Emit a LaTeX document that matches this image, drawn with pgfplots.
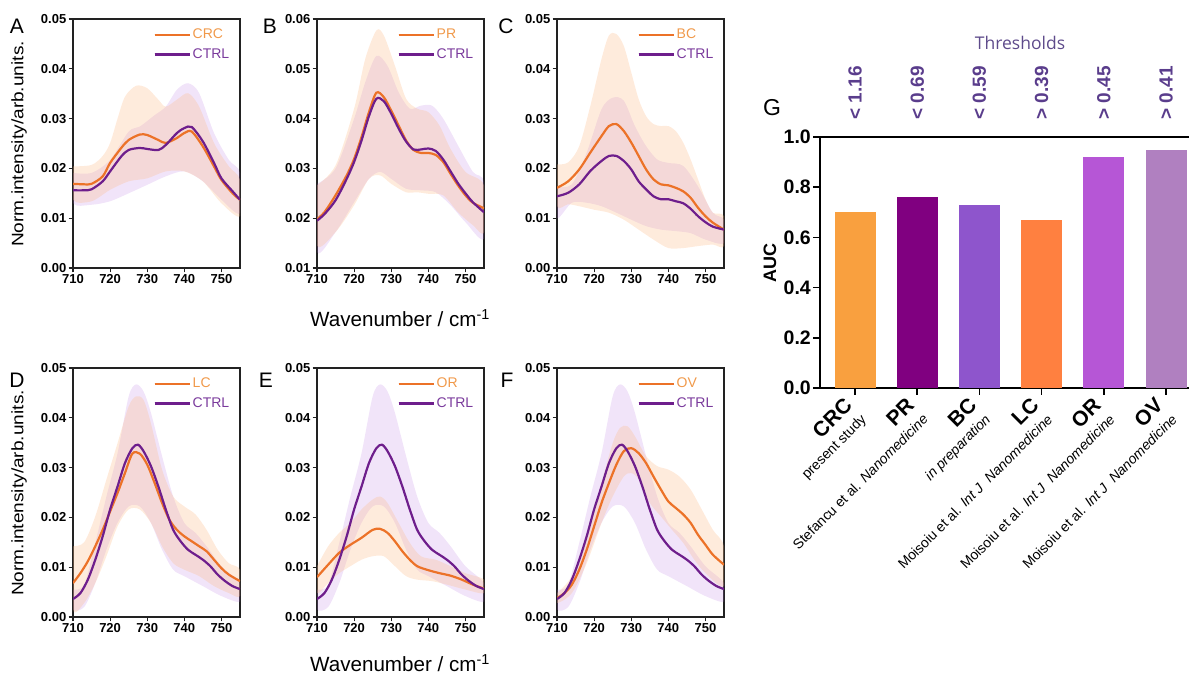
\documentclass[border=0pt]{standalone}
\usepackage{pgfplots}
\pgfplotsset{compat=1.18}
\usepackage{pgfplotstable}
\usepackage{fontspec}
\setmainfont{Liberation Sans}
\newfontfamily\opensans{Open Sans}
\definecolor{axc}{HTML}{222222}
\definecolor{lineO}{HTML}{EC7228}
\definecolor{lineP}{HTML}{6E1E8C}
\definecolor{bandO}{RGB}{253,190,140}
\definecolor{bandP}{HTML}{B978E1}
\definecolor{legO}{HTML}{F0994A}
\definecolor{legP}{HTML}{7A3A9C}
\definecolor{thr}{HTML}{5A3D8C}
\definecolor{thrT}{HTML}{5E4B8B}
\definecolor{cCRC}{HTML}{F9A03F}
\definecolor{cPR}{HTML}{800080}
\definecolor{cBC}{HTML}{8E55CC}
\definecolor{cLC}{HTML}{FF8040}
\definecolor{cOR}{HTML}{B656D6}
\definecolor{cOV}{HTML}{B080C0}
\newcommand{\vs}[1]{\scalebox{1.15}[1]{#1}}

% ---------------- data ----------------
\pgfplotstableread{
x y
710 0.0169
713 0.0168
715 0.0169
718 0.0184
720 0.0211
723 0.0241
725 0.0257
728 0.0268
730 0.0267
733 0.0257
735 0.0251
738 0.0261
740 0.0271
742 0.0274
745 0.0244
748 0.0204
750 0.0177
753 0.0150
755 0.0137
}\Acrc
\pgfplotstableread{
x y
710 0.0156
713 0.0156
715 0.0158
718 0.0174
720 0.0194
723 0.0224
725 0.0237
728 0.0241
730 0.0239
733 0.0237
735 0.0247
738 0.0271
740 0.0281
742 0.0283
745 0.0254
748 0.0211
750 0.0180
753 0.0154
755 0.0137
}\Actrl
\pgfplotstableread{
x y
710 0.0204
715 0.0207
718 0.0225
720 0.0251
722 0.0300
724 0.0344
727 0.0366
730 0.0361
733 0.0338
735 0.0324
738 0.0338
741 0.0351
744 0.0324
748 0.0251
752 0.0204
755 0.0177
755 0.0104
750 0.0130
745 0.0174
740 0.0194
735 0.0194
730 0.0180
725 0.0174
720 0.0157
715 0.0134
710 0.0137
710 0.0204
}\AcrcB
\pgfplotstableread{
x y
710 0.0191
715 0.0191
720 0.0217
725 0.0274
728 0.0284
732 0.0307
735 0.0324
738 0.0358
741 0.0371
744 0.0351
748 0.0271
752 0.0217
755 0.0191
755 0.0110
750 0.0137
745 0.0174
740 0.0194
735 0.0184
730 0.0167
725 0.0150
720 0.0134
715 0.0127
710 0.0130
710 0.0191
}\ActrlB
% B
\pgfplotstableread{
x y
710 0.0198
712 0.0212
715 0.0246
718 0.0286
720 0.0319
722 0.0363
724 0.0413
726 0.0452
728 0.0443
730 0.0416
732 0.0386
734 0.0356
736 0.0337
738 0.0331
740 0.0331
742 0.0327
744 0.0313
746 0.0289
748 0.0266
750 0.0246
752 0.0231
755 0.0220
}\Bpr
\pgfplotstableread{
x y
710 0.0195
712 0.0208
715 0.0236
718 0.0279
720 0.0313
722 0.0356
724 0.0405
726 0.0440
728 0.0435
730 0.0410
732 0.0380
734 0.0354
736 0.0338
738 0.0338
740 0.0340
742 0.0335
744 0.0318
746 0.0294
748 0.0270
750 0.0250
752 0.0232
755 0.0212
}\Bctrl
\pgfplotstableread{
x y
710 0.0266
715 0.0306
720 0.0420
723 0.0520
726 0.0577
728 0.0567
731 0.0506
734 0.0440
737 0.0420
740 0.0413
743 0.0386
746 0.0339
750 0.0293
755 0.0266
755 0.0172
752 0.0186
748 0.0212
744 0.0246
740 0.0249
737 0.0252
734 0.0252
730 0.0269
727 0.0286
724 0.0279
720 0.0226
715 0.0172
710 0.0145
710 0.0266
}\BprB
\pgfplotstableread{
x y
710 0.0269
715 0.0300
720 0.0400
723 0.0473
726 0.0526
729 0.0506
732 0.0453
735 0.0420
738 0.0426
741 0.0426
744 0.0400
748 0.0346
752 0.0293
755 0.0272
755 0.0159
750 0.0192
746 0.0226
742 0.0252
738 0.0256
734 0.0259
730 0.0279
727 0.0293
724 0.0279
720 0.0232
715 0.0172
710 0.0132
710 0.0269
}\BctrlB
% C
\pgfplotstableread{
x y
710 0.0161
713 0.0174
716 0.0198
719 0.0232
722 0.0265
724 0.0285
726 0.0289
728 0.0275
730 0.0252
732 0.0225
734 0.0198
736 0.0178
738 0.0168
740 0.0166
742 0.0161
744 0.0154
746 0.0141
748 0.0121
750 0.0104
752 0.0091
755 0.0077
}\Cbc
\pgfplotstableread{
x y
710 0.0144
713 0.0151
716 0.0168
719 0.0195
722 0.0215
724 0.0225
726 0.0225
728 0.0215
730 0.0198
732 0.0174
734 0.0158
736 0.0144
738 0.0138
740 0.0138
742 0.0134
744 0.0130
746 0.0119
748 0.0104
750 0.0092
752 0.0083
755 0.0077
}\Cctrl
\pgfplotstableread{
x y
710 0.0208
713 0.0212
716 0.0245
719 0.0326
722 0.0420
724 0.0467
726 0.0470
728 0.0446
730 0.0393
732 0.0339
734 0.0305
736 0.0289
738 0.0285
740 0.0285
742 0.0275
744 0.0252
746 0.0218
748 0.0178
750 0.0138
752 0.0111
755 0.0104
755 0.0044
752 0.0047
748 0.0044
744 0.0040
740 0.0040
736 0.0057
732 0.0077
728 0.0097
724 0.0111
720 0.0117
716 0.0124
713 0.0128
710 0.0124
710 0.0208
}\CbcB
\pgfplotstableread{
x y
710 0.0164
714 0.0168
718 0.0232
722 0.0319
725 0.0342
728 0.0336
731 0.0285
734 0.0245
737 0.0218
740 0.0211
744 0.0205
748 0.0164
752 0.0111
755 0.0097
755 0.0050
750 0.0057
746 0.0070
742 0.0074
738 0.0077
734 0.0084
730 0.0097
726 0.0111
722 0.0124
718 0.0131
714 0.0131
710 0.0100
710 0.0164
}\CctrlB
% D E F
\pgfplotstableread{
x y
710 0.0068
712 0.0088
714 0.0112
716 0.0142
718 0.0175
720 0.0212
722 0.0249
724 0.0289
726 0.0328
728 0.0328
730 0.0306
732 0.0269
734 0.0229
736 0.0195
738 0.0175
740 0.0162
742 0.0152
744 0.0142
746 0.0132
748 0.0115
750 0.0098
752 0.0085
755 0.0072
}\Dlc
\pgfplotstableread{
x y
710 0.0036
712 0.0048
714 0.0075
716 0.0115
718 0.0162
720 0.0216
722 0.0262
724 0.0309
726 0.0339
727.5 0.0346
729 0.0333
731 0.0303
733 0.0262
735 0.0216
737 0.0175
739 0.0152
741 0.0135
743 0.0125
745 0.0115
747 0.0102
749 0.0085
751 0.0072
753 0.0062
755 0.0056
}\Dctrl
\pgfplotstableread{
x y
710 0.0142
713 0.0150
716 0.0202
719 0.0276
722 0.0349
725 0.0423
727 0.0443
729 0.0436
731 0.0389
734 0.0296
737 0.0242
740 0.0222
743 0.0206
746 0.0175
749 0.0135
752 0.0108
755 0.0095
755 0.0042
752 0.0048
748 0.0062
744 0.0082
740 0.0095
737 0.0108
734 0.0142
731 0.0189
728 0.0216
725 0.0216
722 0.0182
719 0.0122
716 0.0068
713 0.0028
710 0.0015
710 0.0142
}\DlcB
\pgfplotstableread{
x y
710 0.0055
713 0.0065
716 0.0149
719 0.0242
722 0.0329
725 0.0443
727 0.0467
729 0.0453
731 0.0410
734 0.0323
737 0.0242
740 0.0189
743 0.0169
746 0.0142
750 0.0102
755 0.0068
755 0.0031
750 0.0042
745 0.0062
740 0.0082
737 0.0095
734 0.0135
731 0.0189
728 0.0222
725 0.0222
722 0.0189
719 0.0135
716 0.0068
713 0.0020
710 0.0015
710 0.0055
}\DctrlB
\pgfplotstableread{
x y
710 0.0080
713 0.0105
716 0.0129
719 0.0145
722 0.0159
725 0.0175
727 0.0177
729 0.0169
731 0.0152
733 0.0132
735 0.0115
737 0.0102
740 0.0094
743 0.0088
746 0.0083
749 0.0075
752 0.0065
755 0.0057
}\Eor
\pgfplotstableread{
x y
710 0.0102
713 0.0142
716 0.0169
719 0.0189
722 0.0216
725 0.0236
727 0.0242
729 0.0229
732 0.0189
735 0.0149
738 0.0122
742 0.0115
746 0.0102
750 0.0088
755 0.0075
755 0.0048
750 0.0055
745 0.0065
741 0.0072
737 0.0075
734 0.0082
731 0.0102
728 0.0122
725 0.0122
722 0.0115
719 0.0102
716 0.0088
713 0.0068
710 0.0048
710 0.0102
}\EorB
\pgfplotstableread{
x y
710 0.0038
712 0.0048
714 0.0065
716 0.0095
718 0.0135
720 0.0182
722 0.0229
724 0.0269
726 0.0306
728 0.0333
730 0.0339
732 0.0329
734 0.0309
736 0.0282
738 0.0256
740 0.0232
742 0.0219
744 0.0206
746 0.0189
748 0.0165
750 0.0145
752 0.0125
755 0.0105
}\Fov
\pgfplotstableread{
x y
710 0.0048
714 0.0082
718 0.0162
722 0.0269
725 0.0349
727 0.0380
729 0.0383
731 0.0363
734 0.0323
737 0.0303
740 0.0296
743 0.0282
746 0.0256
749 0.0216
752 0.0175
755 0.0142
755 0.0062
750 0.0088
747 0.0115
744 0.0149
741 0.0175
738 0.0202
735 0.0229
732 0.0276
730 0.0289
728 0.0282
725 0.0242
722 0.0189
718 0.0108
714 0.0048
710 0.0028
710 0.0048
}\FovB

\pgfplotsset{
  spec/.style={
    scale only axis, width=167pt, height=249pt,
    xmin=710, xmax=755, xtick={710,720,730,740,750},
    tick pos=left, tick align=outside, major tick length=4.5pt,
    axis line style={line width=1.2pt, draw=axc},
    tick style={line width=1.2pt, draw=axc},
    scaled y ticks=false,
    yticklabel style={font=\fontsize{13}{14}\selectfont\bfseries, inner sep=2pt,
      /pgf/number format/.cd, fixed, fixed zerofill, precision=2, assume math mode=true},
    xticklabel style={font=\fontsize{13}{14}\selectfont\bfseries, inner sep=2pt,
      /pgf/number format/.cd, assume math mode=true},
    legend cell align=left,
    legend style={draw=none, fill=none, at={(0.955,0.972)}, anchor=north east,
      font=\fontsize{14}{16}\selectfont, row sep=4.5pt, inner sep=1pt},
    legend image code/.code={\draw[#1, line width=2.4pt] (0pt,0pt) -- (26pt,0pt);
      \path (0pt,0pt) -- (35pt,0pt);},
  },
  bandO/.style={draw=none, fill=bandO, fill opacity=0.3, forget plot, smooth},
  bandP/.style={draw=none, fill=bandP, fill opacity=0.2, forget plot, smooth},
  meanO/.style={color=lineO, line width=2.2pt, smooth},
  meanP/.style={color=lineP, line width=2.2pt, smooth},
}

\begin{document}
\begin{tikzpicture}
\useasboundingbox (0,0) rectangle (1189pt,679pt);

% ---- A ----
\begin{axis}[spec, at={(73pt,411pt)}, anchor=south west, ymin=0, ymax=0.05, ytick={0,0.01,...,0.05}]
\addplot[bandP] table {\ActrlB};
\addplot[bandO] table {\AcrcB};
\addplot[meanO] table {\Acrc};
\addlegendentry{\textcolor{legO}{CRC}}
\addplot[meanP] table {\Actrl};
\addlegendentry{\textcolor{legP}{CTRL}}
\end{axis}
% ---- B ----
\begin{axis}[spec, at={(317pt,411pt)}, anchor=south west, ymin=0.01, ymax=0.06, ytick={0.01,0.02,...,0.06}]
\addplot[bandP] table {\BctrlB};
\addplot[bandO] table {\BprB};
\addplot[meanO] table {\Bpr};
\addlegendentry{\textcolor{legO}{PR}}
\addplot[meanP] table {\Bctrl};
\addlegendentry{\textcolor{legP}{CTRL}}
\end{axis}
% ---- C ----
\begin{axis}[spec, at={(557pt,411pt)}, anchor=south west, ymin=0, ymax=0.05, ytick={0,0.01,...,0.05}]
\addplot[bandP] table {\CctrlB};
\addplot[bandO] table {\CbcB};
\addplot[meanO] table {\Cbc};
\addlegendentry{\textcolor{legO}{BC}}
\addplot[meanP] table {\Cctrl};
\addlegendentry{\textcolor{legP}{CTRL}}
\end{axis}
% ---- D ----
\begin{axis}[spec, at={(73pt,62pt)}, anchor=south west, ymin=0, ymax=0.05, ytick={0,0.01,...,0.05}]
\addplot[bandP] table {\DctrlB};
\addplot[bandO] table {\DlcB};
\addplot[meanO] table {\Dlc};
\addlegendentry{\textcolor{legO}{LC}}
\addplot[meanP] table {\Dctrl};
\addlegendentry{\textcolor{legP}{CTRL}}
\end{axis}
% ---- E ----
\begin{axis}[spec, at={(317pt,62pt)}, anchor=south west, ymin=0, ymax=0.05, ytick={0,0.01,...,0.05}]
\addplot[bandP] table {\DctrlB};
\addplot[bandO] table {\EorB};
\addplot[meanO] table {\Eor};
\addlegendentry{\textcolor{legO}{OR}}
\addplot[meanP] table {\Dctrl};
\addlegendentry{\textcolor{legP}{CTRL}}
\end{axis}
% ---- F ----
\begin{axis}[spec, at={(557pt,62pt)}, anchor=south west, ymin=0, ymax=0.05, ytick={0,0.01,...,0.05}]
\addplot[bandP] table {\DctrlB};
\addplot[bandO] table {\FovB};
\addplot[meanO] table {\Fov};
\addlegendentry{\textcolor{legO}{OV}}
\addplot[meanP] table {\Dctrl};
\addlegendentry{\textcolor{legP}{CTRL}}
\end{axis}

% ---- G ----
\begin{axis}[at={(820pt,291pt)}, anchor=south west, scale only axis,
  width=372pt, height=251pt, xmin=-0.563, xmax=5.418, ymin=0, ymax=1,
  clip=false, tick pos=left, tick align=outside, major tick length=7pt,
  axis line style={line width=1.6pt, draw=black},
  tick style={line width=1.6pt, draw=black},
  ytick={0,0.2,...,1.0},
  yticklabel style={font=\fontsize{19.5}{20}\selectfont\bfseries, inner sep=2pt,
    /pgf/number format/.cd, fixed, fixed zerofill, precision=1, assume math mode=true},
  xtick={0,1,2,3,4,5},
  xticklabels={
    {{\fontsize{21}{21}\selectfont\bfseries CRC}\\present study},
    {{\fontsize{21}{21}\selectfont\bfseries PR}\\Stefancu et al. \textit{Nanomedicine}},
    {{\fontsize{21}{21}\selectfont\bfseries BC}\\\textit{in preparation}},
    {{\fontsize{21}{21}\selectfont\bfseries LC}\\Moisoiu et al. \textit{Int J\ \ Nanomedicine}},
    {{\fontsize{21}{21}\selectfont\bfseries OR}\\Moisoiu et al. \textit{Int J\ \ Nanomedicine}},
    {{\fontsize{21}{21}\selectfont\bfseries OV}\\Moisoiu et al. \textit{Int J\ \ Nanomedicine}}},
  xticklabel style={xshift=-12pt, rotate=45, anchor=north east, align=right,
    font=\fontsize{14}{19}\selectfont, inner sep=1pt},
]
\addplot[ybar, bar width=41pt, bar shift=0pt, fill=cCRC, draw=none] coordinates {(0,0.70)};
\addplot[ybar, bar width=41pt, bar shift=0pt, fill=cPR, draw=none] coordinates {(1,0.76)};
\addplot[ybar, bar width=41pt, bar shift=0pt, fill=cBC, draw=none] coordinates {(2,0.73)};
\addplot[ybar, bar width=41pt, bar shift=0pt, fill=cLC, draw=none] coordinates {(3,0.67)};
\addplot[ybar, bar width=41pt, bar shift=0pt, fill=cOR, draw=none] coordinates {(4,0.92)};
\addplot[ybar, bar width=41pt, bar shift=0pt, fill=cOV, draw=none] coordinates {(5,0.95)};
\foreach \i/\t in {0/{< 1.16},1/{< 0.69},2/{< 0.59},3/{> 0.39},4/{> 0.45},5/{> 0.41}}{
  \edef\tmp{\noexpand\node[rotate=90, anchor=west, inner sep=0pt, text=thr,
    font=\noexpand\fontsize{19}{20}\noexpand\selectfont\noexpand\bfseries]
    at (axis cs:\i,1.068) {\t};}\tmp
}
\end{axis}

% ---- free text ----
\node[font=\fontsize{21}{22}\selectfont] at (17pt,653pt) {A};
\node[font=\fontsize{21}{22}\selectfont] at (270pt,653pt) {B};
\node[font=\fontsize{21}{22}\selectfont] at (506pt,653pt) {C};
\node[font=\fontsize{21}{22}\selectfont] at (17pt,299pt) {D};
\node[font=\fontsize{21}{22}\selectfont] at (266pt,299pt) {E};
\node[font=\fontsize{21}{22}\selectfont] at (507pt,299pt) {F};
\node[font=\fontsize{23}{24}\selectfont] at (772pt,571pt) {G};
\node[rotate=90, font=\fontsize{16.6}{18}\selectfont] at (19pt,535pt) {\vs{Norm.intensity/arb.units.}};
\node[rotate=90, font=\fontsize{16.6}{18}\selectfont] at (19pt,186pt) {\vs{Norm.intensity/arb.units.}};
\node[font=\fontsize{20.6}{22}\selectfont] at (400pt,361pt) {Wavenumber / cm\textsuperscript{-1}};
\node[font=\fontsize{20.6}{22}\selectfont] at (400pt,16pt) {Wavenumber / cm\textsuperscript{-1}};
\node[font=\opensans\fontsize{17.5}{19}\selectfont, text=thrT] at (1020pt,636pt) {Thresholds};
\node[rotate=90, font=\fontsize{18}{19}\selectfont\bfseries] at (770pt,416pt) {AUC};
\end{tikzpicture}
\end{document}
